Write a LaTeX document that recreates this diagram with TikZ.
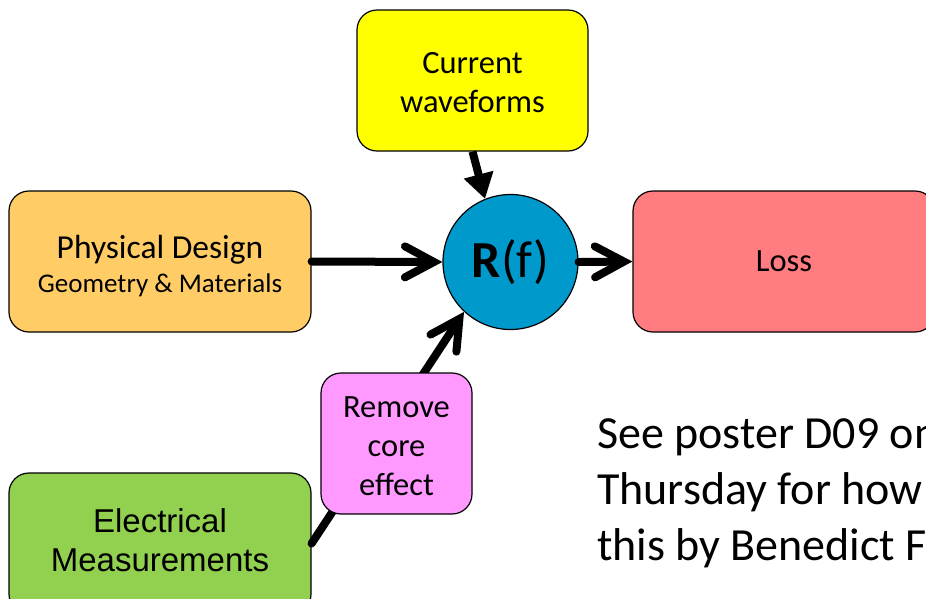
\documentclass[tikz,border=0pt]{standalone}
\usepackage{fontspec}
\setmainfont{Carlito}
\newfontfamily\arialfont{Liberation Sans}
\usetikzlibrary{arrows.meta}
\definecolor{waveyellow}{HTML}{FFFF00}
\definecolor{designorange}{HTML}{FFCC66}
\definecolor{rfblue}{HTML}{0099CC}
\definecolor{lossred}{HTML}{FF7C80}
\definecolor{corepink}{HTML}{FF99FF}
\definecolor{measgreen}{HTML}{92D050}
\begin{document}
\begin{tikzpicture}[x=1pt,y=-1pt,
  box/.style={draw=black, line width=1.2pt, rounded corners=20pt,
    minimum width=302pt, minimum height=141pt, align=center, inner sep=0pt,
    font=\fontsize{32.5}{39}\selectfont},
  barbflow/.style={line width=8pt, line cap=round,
    -{Straight Barb[length=29pt,width=31pt,line cap=round,line join=miter]}},
  solidflow/.style={line width=8pt,
    -{Triangle[length=25pt,width=29pt]}}]
\useasboundingbox (0,0) rectangle (926,598);
\clip (0,0) rectangle (926,598);

% input and output boxes
\node[box, fill=waveyellow, minimum width=231pt] (wave) at (472.5,80.5)
  {\rule{0pt}{26pt}Current\\waveforms};
\node[box, fill=designorange, font=\fontsize{33.5}{39}\selectfont] (design) at (160,261.5)
  {\rule{0pt}{33pt}Physical Design\\[-5pt]{\fontsize{27}{30}\selectfont Geometry \& Materials}};
\node[box, fill=lossred] (loss) at (784,261.5) {Loss};
\node[box, fill=measgreen, font=\arialfont\fontsize{33}{39}\selectfont] (meas) at (160,543.5)
  {Electrical\\Measurements\rule[-6pt]{0pt}{6pt}};

% central resistance node
\node[circle, draw=black, line width=1.2pt, fill=rfblue, minimum size=135pt, inner sep=0pt,
  font=\fontsize{52}{60}\selectfont] (rf) at (510.5,262) {\textbf{R}(f)};

% connectors
\draw[solidflow] (wave.south) -- (rf.112);
\draw[barbflow] (design.east) -- (rf.west);
\draw[barbflow] (rf.east) -- (loss.west);
\draw[barbflow] (meas.east) -- (rf.227);

% correction step sitting on the measurement path
\node[box, fill=corepink, minimum width=151pt, minimum height=141pt] (core) at (396.5,443.5)
  {\rule{0pt}{27pt}Remove\\core\\effect};

% side note, clipped at the right edge
\node[anchor=base west, align=left, inner sep=0pt, font=\fontsize{46}{56}\selectfont] (note) at (597,560)
  {See poster D09 on\\Thursday for how\\this by Benedict F};
\end{tikzpicture}
\end{document}
